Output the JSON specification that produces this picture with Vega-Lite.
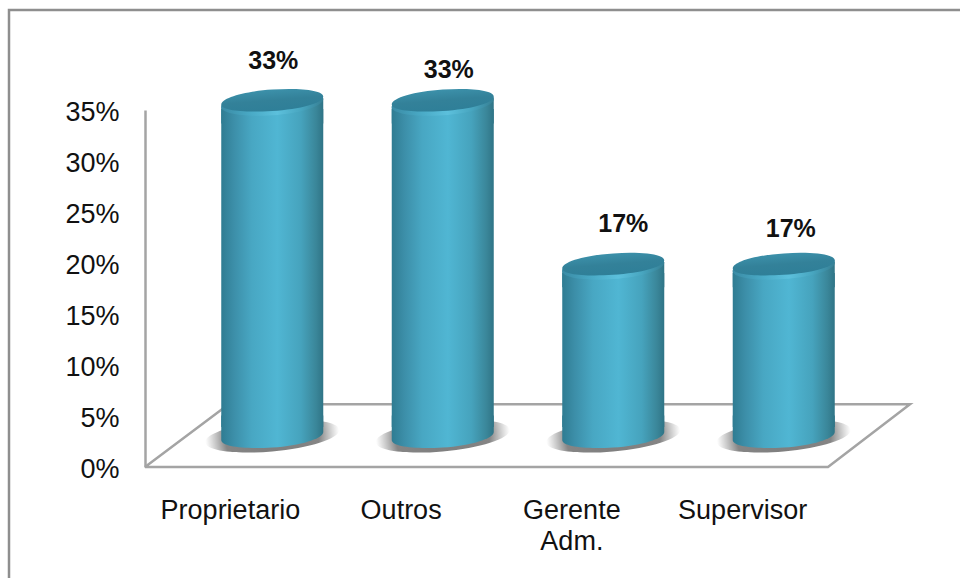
{
  "$schema": "https://vega.github.io/schema/vega-lite/v6.json",
  "autosize": "none",
  "padding": {"left": 9, "top": 10, "right": -10, "bottom": -10},
  "width": 961,
  "height": 578,
  "background": "white",
  "view": {"stroke": "#8e8e8e", "strokeWidth": 2.5, "fill": "white"},
  "config": {"font": "Liberation Sans"},
  "datasets": {
    "cargos": [
      {"cargo": "Proprietario", "parte": 0.33, "base": 0},
      {"cargo": "Outros", "parte": 0.33, "base": 0},
      {"cargo": "Gerente Adm.", "parte": 0.17, "base": 0},
      {"cargo": "Supervisor", "parte": 0.17, "base": 0}
    ],
    "piso": [
      {"ordem": 1, "coluna": 0, "nivel": 0},
      {"ordem": 2, "coluna": 4, "nivel": 0},
      {"ordem": 3, "coluna": 4.48, "nivel": 0.0615},
      {"ordem": 4, "coluna": 0.49, "nivel": 0.0615},
      {"ordem": 5, "coluna": 0, "nivel": 0}
    ]
  },
  "layer": [
    {
      "data": {"name": "piso"},
      "mark": {"type": "line", "stroke": "#a4a4a4", "strokeWidth": 2.5, "strokeJoin": "miter"},
      "encoding": {
        "order": {"field": "ordem", "type": "quantitative"},
        "x": {"field": "coluna", "type": "quantitative", "axis": null,
          "scale": {"type": "linear", "domain": [0, 4], "range": [136, 819], "nice": false, "zero": false}},
        "y": {"field": "nivel", "type": "quantitative",
          "scale": {"domain": [0, 0.35], "range": [457, 100], "nice": false},
          "axis": {"title": null, "orient": "left", "offset": -136, "values": [0, 0.05, 0.1, 0.15, 0.2, 0.25, 0.3, 0.35],
            "format": ".0%", "ticks": false, "grid": false, "domainColor": "#a4a4a4", "domainWidth": 2.5,
            "labelFontSize": 27, "labelColor": "#111111", "labelPadding": 26, "labelOffset": 2, "labelFont": "Liberation Sans"}}
      }
    },
    {
      "data": {"name": "cargos"},
      "mark": {"type": "rule", "opacity": 0},
      "encoding": {
        "x": {"field": "cargo", "type": "nominal", "sort": null,
          "scale": {"type": "band", "range": [136, 819]},
          "axis": {"title": null, "orient": "bottom", "offset": -121, "domain": false, "ticks": false, "grid": false,
            "labelAngle": 0, "labelFontSize": 27, "labelColor": "#111111", "labelPadding": 43, "labelLineHeight": 31,
            "labelFont": "Liberation Sans", "labelOverlap": false, "labelBaseline": "middle", "labelExpr": "split(datum.label, ' ')"}}
      }
    },
    {
      "data": {"name": "cargos"},
      "mark": {"type": "point", "filled": true, "opacity": 1, "strokeWidth": 0, "size": 17956,
        "shape": "M-1,0.09C-1,-0.04,-0.552,-0.18,0,-0.23C0.552,-0.28,1,-0.22,1,-0.09C1,0.04,0.552,0.18,0,0.23C-0.552,0.28,-1,0.22,-1,0.09Z",
        "fill": {"gradient": "radial", "x1": 0.5, "y1": 0.5, "x2": 0.5, "y2": 0.5, "r1": 0, "r2": 0.5,
          "stops": [{"offset": 0, "color": "#7d7d7d"}, {"offset": 0.7, "color": "#858585"}, {"offset": 1, "color": "rgba(150,150,150,0)"}]}},
      "encoding": {
        "x": {"field": "cargo", "type": "nominal", "sort": null, "axis": null, "scale": {"type": "band", "range": [178, 860]}},
        "y": {"field": "base", "type": "quantitative", "axis": null, "scale": {"domain": [0, 0.33], "range": [426, 93], "nice": false}}
      }
    },
    {
      "data": {"name": "cargos"},
      "mark": {"type": "point", "filled": true, "opacity": 1, "strokeWidth": 0, "size": 10404,
        "shape": "M1,-0.08C1,0.05,0.552,0.19,0,0.225C-0.552,0.26,-1,0.21,-1,0.08L-1,-0.4L1,-0.4Z",
        "fill": {"gradient": "linear", "x1": 0, "x2": 1, "y1": 0, "y2": 0,
          "stops": [{"offset": 0, "color": "#2f7c92"}, {"offset": 0.12, "color": "#3c8ea8"}, {"offset": 0.3, "color": "#48a7c3"}, {"offset": 0.55, "color": "#50b6d3"}, {"offset": 0.78, "color": "#46a3bd"}, {"offset": 0.93, "color": "#3a8699"}, {"offset": 1, "color": "#2f7486"}]}},
      "encoding": {
        "x": {"field": "cargo", "type": "nominal", "sort": null, "axis": null, "scale": {"type": "band", "range": [178, 860]}},
        "y": {"field": "base", "type": "quantitative", "axis": null, "scale": {"domain": [0, 0.33], "range": [426, 93], "nice": false}}
      }
    },
    {
      "data": {"name": "cargos"},
      "mark": {"type": "bar", "width": 102,
        "fill": {"gradient": "linear", "x1": 0, "x2": 1, "y1": 0, "y2": 0,
          "stops": [{"offset": 0, "color": "#2f7c92"}, {"offset": 0.12, "color": "#3c8ea8"}, {"offset": 0.3, "color": "#48a7c3"}, {"offset": 0.55, "color": "#50b6d3"}, {"offset": 0.78, "color": "#46a3bd"}, {"offset": 0.93, "color": "#3a8699"}, {"offset": 1, "color": "#2f7486"}]},
        "yOffset": 6, "y2Offset": -14},
      "encoding": {
        "x": {"field": "cargo", "type": "nominal", "sort": null, "axis": null, "scale": {"type": "band", "range": [178, 860]}},
        "y": {"field": "parte", "type": "quantitative", "axis": null, "scale": {"domain": [0, 0.33], "range": [431, 93], "nice": false}},
        "y2": {"field": "base"}
      }
    },
    {
      "data": {"name": "cargos"},
      "mark": {"type": "point", "filled": true, "opacity": 1, "strokeWidth": 0, "size": 10404,
        "shape": "M-1,0.08C-1,-0.06,-0.552,-0.2,0,-0.24C0.552,-0.28,1,-0.21,1,-0.08L1,0.4L-1,0.4Z",
        "fill": {"gradient": "linear", "x1": 0, "x2": 1, "y1": 0, "y2": 0,
          "stops": [{"offset": 0, "color": "#2f7c92"}, {"offset": 0.12, "color": "#3c8ea8"}, {"offset": 0.3, "color": "#48a7c3"}, {"offset": 0.55, "color": "#50b6d3"}, {"offset": 0.78, "color": "#46a3bd"}, {"offset": 0.93, "color": "#3a8699"}, {"offset": 1, "color": "#2f7486"}]}},
      "encoding": {
        "x": {"field": "cargo", "type": "nominal", "sort": null, "axis": null, "scale": {"type": "band", "range": [178, 860]}},
        "y": {"field": "parte", "type": "quantitative", "axis": null, "scale": {"domain": [0, 0.33], "range": [431, 93], "nice": false}}
      }
    },
    {
      "data": {"name": "cargos"},
      "mark": {"type": "point", "filled": true, "opacity": 1, "strokeWidth": 0, "size": 10404,
        "shape": "M-1,0.08C-1,-0.06,-0.552,-0.2,0,-0.24C0.552,-0.28,1,-0.21,1,-0.08C1,0.06,0.552,0.2,0,0.24C-0.552,0.28,-1,0.21,-1,0.08Z",
        "fill": {"gradient": "linear", "x1": 0, "x2": 1, "y1": 0, "y2": 0,
          "stops": [{"offset": 0, "color": "#3a8ba5"}, {"offset": 0.3, "color": "#4aabc7"}, {"offset": 0.55, "color": "#5cc0dc"}, {"offset": 0.78, "color": "#48a6c0"}, {"offset": 1, "color": "#367f94"}]}},
      "encoding": {
        "x": {"field": "cargo", "type": "nominal", "sort": null, "axis": null, "scale": {"type": "band", "domain": ["Proprietario", "Outros", "Gerente Adm.", "Supervisor"], "range": [178, 860]}},
        "y": {"field": "parte", "type": "quantitative", "axis": null, "scale": {"domain": [0, 0.33], "range": [431, 93], "nice": false}}
      }
    },
    {
      "data": {"name": "cargos"},
      "mark": {"type": "point", "filled": true, "opacity": 1, "strokeWidth": 0, "size": 10404, "yOffset": -2.5,
        "shape": "M-1,0.08C-1,-0.05,-0.552,-0.18,0,-0.215C0.552,-0.25,1,-0.2,1,-0.08C1,0.05,0.552,0.17,0,0.205C-0.552,0.24,-1,0.2,-1,0.08Z",
        "fill": {"gradient": "linear", "x1": 0, "x2": 0.35, "y1": 0, "y2": 1,
          "stops": [{"offset": 0, "color": "#4097b1"}, {"offset": 0.6, "color": "#338199"}, {"offset": 1, "color": "#2f7f98"}]}},
      "encoding": {
        "x": {"field": "cargo", "type": "nominal", "sort": null, "axis": null, "scale": {"type": "band", "range": [178, 860]}},
        "y": {"field": "parte", "type": "quantitative", "axis": null, "scale": {"domain": [0, 0.33], "range": [431, 93], "nice": false}}
      }
    },
    {
      "data": {"name": "cargos"},
      "transform": [{"filter": "datum.cargo === 'Proprietario'"}],
      "mark": {"type": "text", "font": "Liberation Sans", "fontWeight": "bold", "fontSize": 25, "color": "#111111", "dx": 1, "dy": -42},
      "encoding": {
        "x": {"field": "cargo", "type": "nominal", "sort": null, "axis": null, "scale": {"type": "band", "domain": ["Proprietario", "Outros", "Gerente Adm.", "Supervisor"], "range": [178, 860]}},
        "y": {"field": "parte", "type": "quantitative", "axis": null, "scale": {"domain": [0, 0.33], "range": [431, 93], "nice": false}},
        "text": {"field": "parte", "type": "quantitative", "format": ".0%"}
      }
    },
    {
      "data": {"name": "cargos"},
      "transform": [{"filter": "datum.cargo === 'Outros'"}],
      "mark": {"type": "text", "font": "Liberation Sans", "fontWeight": "bold", "fontSize": 25, "color": "#111111", "dx": 6, "dy": -33},
      "encoding": {
        "x": {"field": "cargo", "type": "nominal", "sort": null, "axis": null, "scale": {"type": "band", "domain": ["Proprietario", "Outros", "Gerente Adm.", "Supervisor"], "range": [178, 860]}},
        "y": {"field": "parte", "type": "quantitative", "axis": null, "scale": {"domain": [0, 0.33], "range": [431, 93], "nice": false}},
        "text": {"field": "parte", "type": "quantitative", "format": ".0%"}
      }
    },
    {
      "data": {"name": "cargos"},
      "transform": [{"filter": "datum.cargo === 'Gerente Adm.'"}],
      "mark": {"type": "text", "font": "Liberation Sans", "fontWeight": "bold", "fontSize": 25, "color": "#111111", "dx": 10, "dy": -43},
      "encoding": {
        "x": {"field": "cargo", "type": "nominal", "sort": null, "axis": null, "scale": {"type": "band", "domain": ["Proprietario", "Outros", "Gerente Adm.", "Supervisor"], "range": [178, 860]}},
        "y": {"field": "parte", "type": "quantitative", "axis": null, "scale": {"domain": [0, 0.33], "range": [431, 93], "nice": false}},
        "text": {"field": "parte", "type": "quantitative", "format": ".0%"}
      }
    },
    {
      "data": {"name": "cargos"},
      "transform": [{"filter": "datum.cargo === 'Supervisor'"}],
      "mark": {"type": "text", "font": "Liberation Sans", "fontWeight": "bold", "fontSize": 25, "color": "#111111", "dx": 7, "dy": -38},
      "encoding": {
        "x": {"field": "cargo", "type": "nominal", "sort": null, "axis": null, "scale": {"type": "band", "domain": ["Proprietario", "Outros", "Gerente Adm.", "Supervisor"], "range": [178, 860]}},
        "y": {"field": "parte", "type": "quantitative", "axis": null, "scale": {"domain": [0, 0.33], "range": [431, 93], "nice": false}},
        "text": {"field": "parte", "type": "quantitative", "format": ".0%"}
      }
    }
  ],
  "resolve": {"scale": {"x": "independent", "y": "independent"},
    "axis": {"x": "independent", "y": "independent"}}
}
